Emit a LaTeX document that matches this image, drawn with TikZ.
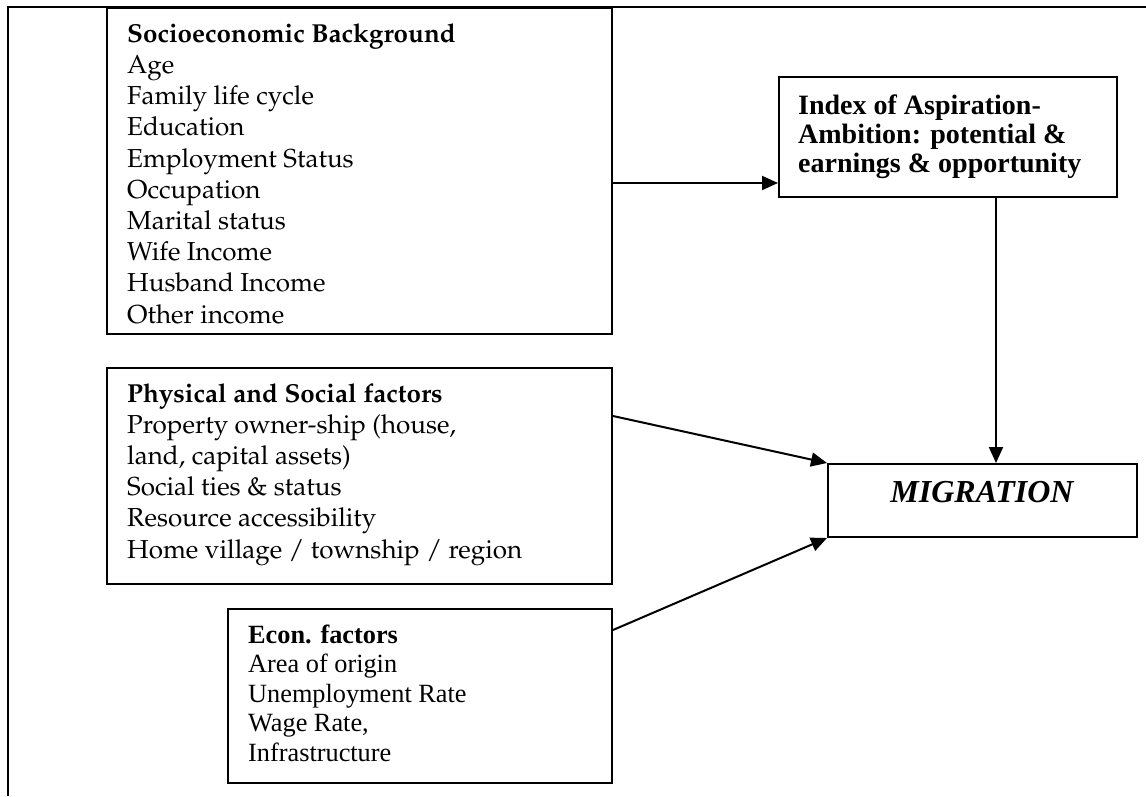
\documentclass[tikz,border=0pt]{standalone}
\usepackage{fontspec}
\setmainfont{Liberation Serif}
\newfontfamily\tnr{Liberation Serif}
\usepackage[T1,TU]{fontenc}
\usetikzlibrary{arrows.meta}
\newcommand\palf{\fontencoding{T1}\fontfamily{ppl}\selectfont}
\begin{document}
\begin{tikzpicture}[x=1pt,y=-1pt,
  box/.style={draw, line width=2pt, inner sep=0pt, anchor=north west},
  arr/.style={line width=2pt, -{Triangle[length=16pt,width=14pt]}},
  pal/.style={font=\palf\fontsize{26}{31.2}\selectfont, align=left, inner sep=0pt, anchor=base west},
  tms/.style={font=\tnr\fontsize{26.3}{29.5}\selectfont, align=left, inner sep=0pt, anchor=base west},
  tmb/.style={font=\tnr\bfseries\fontsize{28}{29}\selectfont, align=left, inner sep=0pt, anchor=base west}]
\useasboundingbox (0,0) rectangle (1146,796);
\draw[line width=2.5pt] (1146,7) -- (8,7) -- (8,796);
% boxes
\node[box, minimum width=505pt, minimum height=326pt] (socio) at (106,7) {};
\node[box, minimum width=505pt, minimum height=216pt] (phys) at (106,367) {};
\node[box, minimum width=384pt, minimum height=174pt] (econ) at (227,608) {};
\node[box, minimum width=338pt, minimum height=120pt] (ind) at (778,76) {};
\node[box, minimum width=309pt, minimum height=73pt] (mig) at (827,463) {};
% texts (anchor = baseline of the last line)
\node[pal] (socioT) at (127,323) {\textbf{Socioeconomic Background}\\Age\\Family life cycle\\Education\\Employment Status\\Occupation\\Marital status\\Wife Income\\Husband Income\\Other income};
\node[pal] (physT) at (127,558) {\textbf{Physical and Social factors}\\Property owner-ship (house,\\land, capital assets)\\Social ties \& status\\Resource accessibility\\Home village / township / region};
\node[tms] (econT) at (248,761) {\textbf{Econ. factors}\\Area of origin\\Unemployment Rate\\Wage Rate,\\Infrastructure};
\node[tmb] (indT) at (798,172) {Index of Aspiration-\\Ambition: potential \&\\earnings \& opportunity};
\node[font=\tnr\bfseries\itshape\fontsize{32}{36}\selectfont, inner sep=0pt, anchor=base] (migT) at (982,502) {MIGRATION};
% connectors
\coordinate (a1) at ([yshift=15pt]ind.south west);
\draw[arr] (socio.east |- a1) -- (a1);
\draw[arr] ([xshift=48pt]ind.south) -- ([xshift=48pt]ind.south |- mig.north);
\draw[arr] ([yshift=-49pt]phys.north east) -- (mig.north west);
\draw[arr] ([yshift=-22pt]econ.north east) -- (mig.south west);
\end{tikzpicture}
\end{document}
